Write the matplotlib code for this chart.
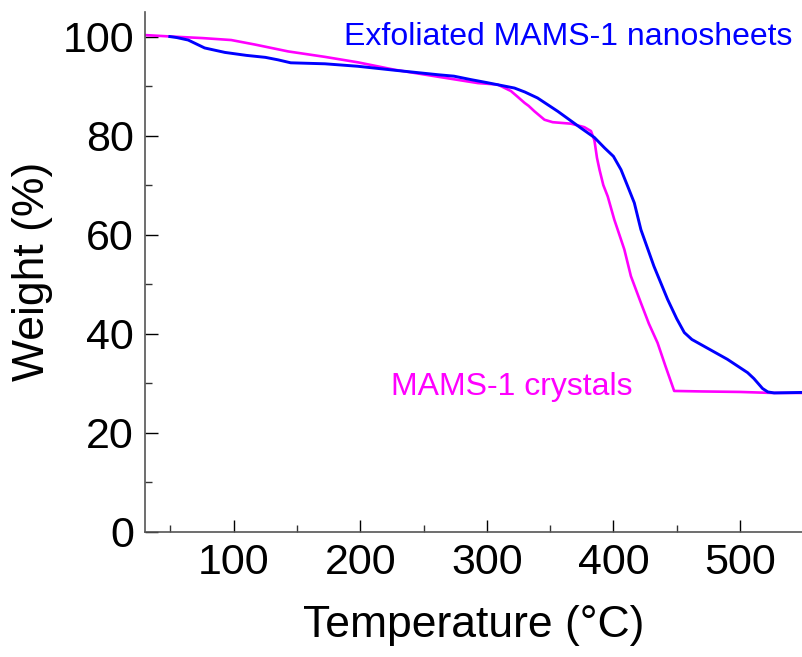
import matplotlib
matplotlib.use("Agg")
import matplotlib.pyplot as plt
from matplotlib.ticker import MultipleLocator

plt.rcParams['font.family'] = ['Liberation Sans', 'DejaVu Sans']

# Exfoliated MAMS-1 nanosheets (blue)
sheet_temp = [49.5, 55, 64, 77, 93, 110, 125, 135, 145, 172, 198, 227, 261, 274, 287.5, 300,
              321.8, 330, 340, 356, 374.4, 385, 393, 400, 406, 411.2, 416.5, 421.7, 432,
              442.8, 450, 456, 462, 469, 490, 506, 511, 517.8, 522, 527, 549]
sheet_weight = [100, 99.8, 99.3, 97.7, 96.8, 96.2, 95.8, 95.3, 94.7, 94.5, 94.0, 93.2, 92.3, 92.0, 91.3, 90.7,
                89.6, 88.8, 87.6, 84.9, 81.5, 79.6, 77.5, 75.8, 73.1, 69.8, 66.4, 61, 53.6,
                46.9, 43.0, 40.2, 38.8, 37.8, 34.8, 32.1, 30.9, 28.9, 28.2, 28.0, 28.1]

# MAMS-1 crystals (magenta)
cryst_temp = [30, 51, 75, 98, 116.5, 143, 172, 198, 227, 261, 293, 308.6, 319, 324, 329.8,
              333, 337.6, 345.5, 352, 366.5, 377, 382.3, 385, 387, 389, 392, 395.5, 400.7,
              404, 408.6, 413.8, 421.7, 428, 434.9, 441, 448, 470, 500, 525, 549]
cryst_weight = [100.3, 100, 99.7, 99.3, 98.4, 97.0, 95.9, 94.8, 93.3, 91.9, 90.6, 90.3, 89.0, 87.9, 86.6,
                86.0, 84.9, 83.2, 82.7, 82.4, 81.7, 80.9, 79.0, 75.5, 73.1, 70.0, 67.7, 63.0,
                60.5, 57.0, 51.6, 46.2, 42.0, 38.1, 33.5, 28.4, 28.3, 28.2, 28.0, 28.0]

fig = plt.figure(figsize=(8.02, 6.57), dpi=100)
ax = fig.add_axes([0.181, 0.191, 0.819, 0.791])

ax.plot(cryst_temp, cryst_weight, color='#ff00ff', lw=1.9)
ax.plot(sheet_temp, sheet_weight, color='#0000ff', lw=2.1)

ax.set_xlim(30, 549)
ax.set_ylim(0, 105)
ax.xaxis.set_major_locator(MultipleLocator(100))
ax.xaxis.set_minor_locator(MultipleLocator(50))
ax.yaxis.set_major_locator(MultipleLocator(20))
ax.yaxis.set_minor_locator(MultipleLocator(10))
ax.set_xticks([100, 200, 300, 400, 500])

for s in ['top', 'right']:
    ax.spines[s].set_visible(False)
for s in ['left', 'bottom']:
    ax.spines[s].set_color('#555555')
    ax.spines[s].set_linewidth(1.2)

ax.tick_params(which='major', direction='in', length=9, width=1.0, color='black',
               labelsize=31, pad=8)
ax.tick_params(which='minor', direction='in', length=5, width=1.0, color='#333333')

ax.set_xlabel('Temperature (°C)', fontsize=32, labelpad=16)
ax.set_ylabel('Weight (%)', fontsize=32, labelpad=7)

ax.text(541, 100, 'Exfoliated MAMS-1 nanosheets', color='#0000ff', fontsize=23,
        ha='right', va='center')
ax.text(224, 29.1, 'MAMS-1 crystals', color='#ff00ff', fontsize=23,
        ha='left', va='center')

fig.savefig('out.png', dpi=100)
